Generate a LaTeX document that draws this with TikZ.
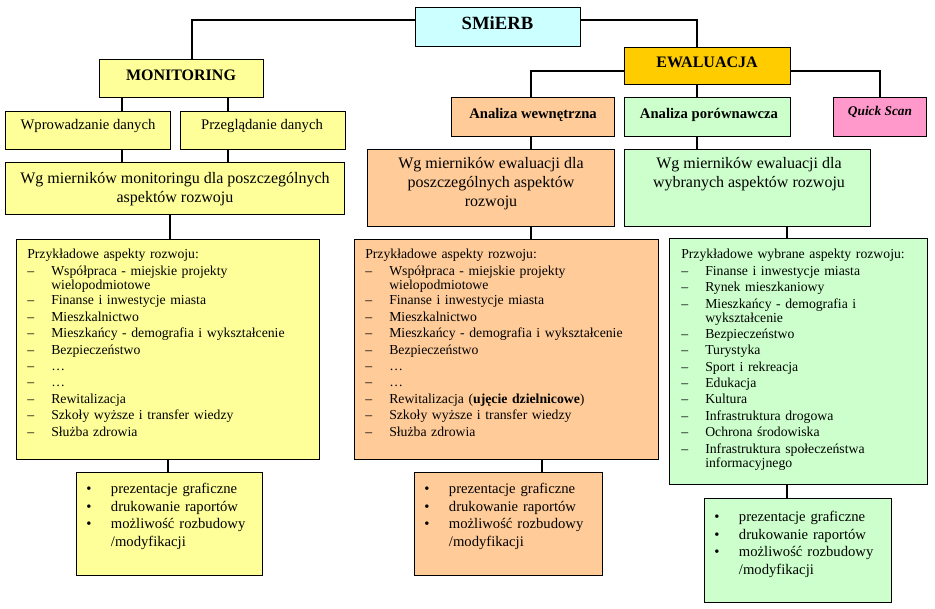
\documentclass[tikz,border=0pt]{standalone}
\usepackage{fontspec}
\setmainfont{Liberation Serif}
\usetikzlibrary{calc}
\definecolor{cy}{HTML}{CCFFFF}
\definecolor{ye}{HTML}{FFFF99}
\definecolor{go}{HTML}{FFCC00}
\definecolor{orn}{HTML}{FFCC99}
\definecolor{gr}{HTML}{CCFFCC}
\definecolor{pk}{HTML}{FF99CC}
\newcommand\litem[1]{\par\noindent\makebox[18pt][l]{–}\parbox[t]{\dimexpr\hsize-18pt\relax}{\raggedright #1}}
\newcommand\bitem[1]{\par\noindent\makebox[18.5pt][l]{•}\parbox[t]{\dimexpr\hsize-18.5pt\relax}{\raggedright #1}}
\newcommand\bx[6]{\node[box, fill=#6, minimum width={(#4-#2)*0.75pt}, minimum height={(#5-#3)*0.75pt}] (#1) at (#2,#3) {};}
\begin{document}
\begin{tikzpicture}[x=0.75pt,y=-0.75pt,
  box/.style={draw=black, line width=0.8pt, inner sep=0pt, anchor=north west},
  conn/.style={draw=black, line width=0.8pt},
  lbl/.style={inner sep=0pt, text height=0.62em, text depth=0pt},
  mtxt/.style={inner sep=0pt, anchor=north, align=center, font=\fontsize{12}{14.3}\selectfont},
  ltxt/.style={inner sep=0pt, anchor=north west, align=left, text width=210pt, font=\fontsize{10.3}{10.9}\selectfont},
  btxt/.style={inner sep=0pt, anchor=north west, align=left, text width=130pt, font=\fontsize{11}{13.1}\selectfont}]
\useasboundingbox (0,0) rectangle (935,608);
\fill[white] (0,0) rectangle (935,608);
% boxes
\bx{smierb}{415}{7}{580}{46}{cy}
\bx{monit}{99}{59}{263}{97}{ye}
\bx{ewal}{624}{47}{790}{84}{go}
\bx{wpro}{5}{111}{170}{149}{ye}
\bx{przeg}{180}{111}{345}{149}{ye}
\bx{wgmon}{5}{162}{344}{214}{ye}
\bx{lstL}{16}{239}{319}{459}{ye}
\bx{bulL}{76}{472}{262}{575}{ye}
\bx{awew}{451}{97}{614}{136}{orn}
\bx{apor}{624}{97}{790}{136}{gr}
\bx{qs}{833}{97}{926}{136}{pk}
\bx{wgew}{367}{149}{614}{226}{orn}
\bx{wgwyb}{624}{149}{870}{226}{gr}
\bx{lstM}{354}{239}{658}{459}{orn}
\bx{bulM}{414}{472}{602}{575}{orn}
\bx{lstR}{669}{238}{927}{484}{gr}
\bx{bulR}{704}{498}{891}{602}{gr}
% connectors
\coordinate (k1) at (192,20);
\coordinate (k2) at (697,20);
\coordinate (k3) at (122,0);
\coordinate (k4) at (228,0);
\coordinate (k5) at (170,0);
\coordinate (k6) at (168,0);
\coordinate (k7) at (531,71);
\coordinate (k8) at (880,71);
\coordinate (k9) at (787,0);
\coordinate (k10) at (542,0);
\draw[conn] (smierb.west |- k1) -| (monit.north -| k1);
\draw[conn] (smierb.east |- k1) -| (ewal.north -| k2);
\draw[conn] (monit.south -| k3) -- (wpro.north -| k3);
\draw[conn] (monit.south -| k4) -- (przeg.north -| k4);
\draw[conn] (wpro.south -| k3) -- (wgmon.north -| k3);
\draw[conn] (przeg.south -| k4) -- (wgmon.north -| k4);
\draw[conn] (wgmon.south -| k5) -- (lstL.north -| k5);
\draw[conn] (lstL.south -| k6) -- (bulL.north -| k6);
\draw[conn] (ewal.west |- k7) -| (awew.north -| k7);
\draw[conn] (ewal.east |- k8) -| (qs.north -| k8);
\draw[conn] (ewal.south -| k2) -- (apor.north -| k2);
\draw[conn] (awew.south -| k7) -- (wgew.north -| k7);
\draw[conn] (apor.south -| k2) -- (wgwyb.north -| k2);
\draw[conn] (wgew.south -| k7) -- (lstM.north -| k7);
\draw[conn] (wgwyb.south -| k9) -- (lstR.north -| k9);
\draw[conn] (lstR.south -| k9) -- (bulR.north -| k9);
\draw[conn] (lstM.south -| k10) -- (bulM.north -| k10);
% texts
\node[lbl, font=\fontsize{14}{16}\selectfont\bfseries] (t-smierb) at (497.5,25) {SMiERB};
\node[lbl, font=\fontsize{12}{14}\selectfont\bfseries] (t-monit) at (181,76) {MONITORING};
\node[lbl, font=\fontsize{12}{14}\selectfont\bfseries] (t-ewal) at (707,63) {EWALUACJA};
\node[lbl, font=\fontsize{11}{13}\selectfont] (t-wpro) at (88,125) {Wprowadzanie danych};
\node[lbl, font=\fontsize{11}{13}\selectfont] (t-przeg) at (262,125) {Przeglądanie danych};
\node[lbl, font=\fontsize{11}{13}\selectfont\bfseries] (t-awew) at (533,114) {Analiza wewnętrzna};
\node[lbl, font=\fontsize{11}{13}\selectfont\bfseries] (t-apor) at (709,114) {Analiza porównawcza};
\node[lbl, font=\fontsize{10}{12}\selectfont\bfseries\itshape] (t-qs) at (880,111) {Quick Scan};
\node[mtxt] (t-wgmon) at (175,172) {Wg mierników monitoringu dla poszczególnych\\aspektów rozwoju};
\node[mtxt] (t-wgew) at (491,157) {Wg mierników ewaluacji dla\\poszczególnych aspektów\\rozwoju};
\node[mtxt] (t-wgwyb) at (749,157) {Wg mierników ewaluacji dla\\wybranych aspektów rozwoju};
\node[ltxt] (t-lstL) at (27,249) {\setlength\parskip{1.4pt}Przykładowe aspekty rozwoju:
\litem{Współpraca - miejskie projekty\\wielopodmiotowe}
\litem{Finanse i inwestycje miasta}
\litem{Mieszkalnictwo}
\litem{Mieszkańcy - demografia i wykształcenie}
\litem{Bezpieczeństwo}
\litem{…}
\litem{…}
\litem{Rewitalizacja}
\litem{Szkoły wyższe i transfer wiedzy}
\litem{Służba zdrowia}};
\node[ltxt] (t-lstM) at (365,249) {\setlength\parskip{1.4pt}Przykładowe aspekty rozwoju:
\litem{Współpraca - miejskie projekty\\wielopodmiotowe}
\litem{Finanse i inwestycje miasta}
\litem{Mieszkalnictwo}
\litem{Mieszkańcy - demografia i wykształcenie}
\litem{Bezpieczeństwo}
\litem{…}
\litem{…}
\litem{Rewitalizacja (\textbf{ujęcie dzielnicowe})}
\litem{Szkoły wyższe i transfer wiedzy}
\litem{Służba zdrowia}};
\node[ltxt, text width=180pt] (t-lstR) at (681,249) {\setlength\parskip{1.4pt}Przykładowe wybrane aspekty rozwoju:
\litem{Finanse i inwestycje miasta}
\litem{Rynek mieszkaniowy}
\litem{Mieszkańcy - demografia i\\wykształcenie}
\litem{Bezpieczeństwo}
\litem{Turystyka}
\litem{Sport i rekreacja}
\litem{Edukacja}
\litem{Kultura}
\litem{Infrastruktura drogowa}
\litem{Ochrona środowiska}
\litem{Infrastruktura społeczeństwa\\informacyjnego}};
\node[btxt] (t-bulL) at (86,476) {\bitem{prezentacje graficzne}
\bitem{drukowanie raportów}
\bitem{możliwość rozbudowy\\/modyfikacji}};
\node[btxt] (t-bulM) at (424,476) {\bitem{prezentacje graficzne}
\bitem{drukowanie raportów}
\bitem{możliwość rozbudowy\\/modyfikacji}};
\node[btxt] (t-bulR) at (714,504) {\bitem{prezentacje graficzne}
\bitem{drukowanie raportów}
\bitem{możliwość rozbudowy\\/modyfikacji}};
\end{tikzpicture}
\end{document}
